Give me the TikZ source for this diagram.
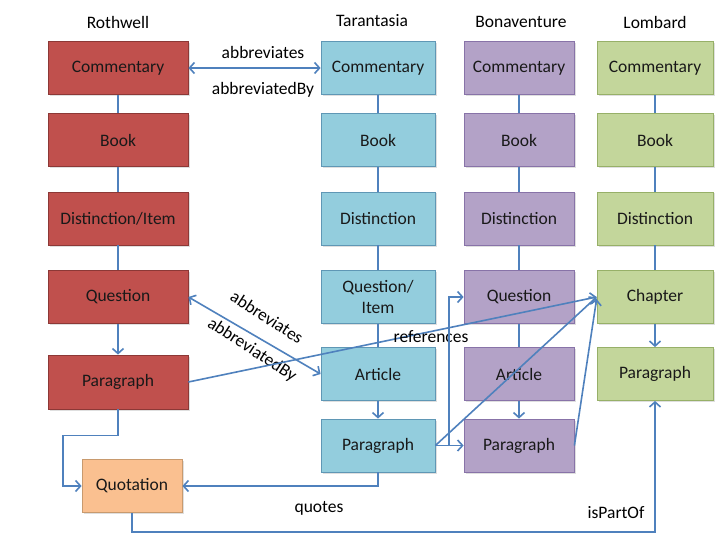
\documentclass[tikz,border=0pt]{standalone}
\usepackage{fontspec}
\setmainfont{Carlito}
\usetikzlibrary{arrows.meta,shadows}
\definecolor{ln}{HTML}{4F81BD}
\definecolor{rfill}{HTML}{C0504D}
\definecolor{rdraw}{HTML}{8C3836}
\definecolor{tfill}{HTML}{93CDDD}
\definecolor{tdraw}{HTML}{5F97B5}
\definecolor{pfill}{HTML}{B3A2C7}
\definecolor{pdraw}{HTML}{8873A8}
\definecolor{gfill}{HTML}{C3D69B}
\definecolor{gdraw}{HTML}{97B068}
\definecolor{ofill}{HTML}{FAC090}
\definecolor{odraw}{HTML}{C89A6E}
\begin{document}
\begin{tikzpicture}[x=1pt,y=-1pt,
  box/.style={draw, line width=0.8pt, minimum height=53pt, inner sep=0pt, align=center,
    font=\fontsize{17.5}{21}\selectfont, text=black!90,
    drop shadow={shadow xshift=1.5pt,shadow yshift=-1.5pt,opacity=0.25}},
  rbox/.style={box, fill=rfill, draw=rdraw, minimum width=140pt},
  tbox/.style={box, fill=tfill, draw=tdraw, minimum width=114pt},
  pbox/.style={box, fill=pfill, draw=pdraw, minimum width=110pt},
  gbox/.style={box, fill=gfill, draw=gdraw, minimum width=116pt},
  obox/.style={box, fill=ofill, draw=odraw, minimum width=100pt},
  conn/.style={draw=ln, line width=1.6pt},
  arr/.style={conn, -{Straight Barb[length=5pt,width=11pt,line width=1.6pt]}},
  darr/.style={conn, {Straight Barb[length=5pt,width=11pt,line width=1.6pt]}-{Straight Barb[length=5pt,width=11pt,line width=1.6pt]}},
  lbl/.style={font=\fontsize{17.5}{21}\selectfont, text=black, inner sep=1pt}
]
\useasboundingbox (0,0) rectangle (720,540);
\fill[white] (0,0) rectangle (720,540);

% titles
\node[lbl] (tR) at (118,22) {Rothwell};
\node[lbl] (tT) at (372,21) {Tarantasia};
\node[lbl] (tB) at (521,22) {Bonaventure};
\node[lbl] (tL) at (655,22) {Lombard};

% Rothwell
\node[rbox] (Rc) at (118,68) {Commentary};
\node[rbox] (Rb) at (118,140) {Book};
\node[rbox] (Rd) at (118,218.5) {Distinction/Item};
\node[rbox] (Rq) at (118,297) {Question};
\node[rbox, minimum height=54pt] (Rp) at (118,382) {Paragraph};

% Tarantasia
\node[tbox] (Tc) at (378,68) {Commentary};
\node[tbox] (Tb) at (378,140) {Book};
\node[tbox] (Td) at (378,218.5) {Distinction};
\node[tbox] (Tq) at (378,297) {Question/\\Item};
\node[tbox] (Ta) at (378,374) {Article};
\node[tbox] (Tp) at (378,445.5) {Paragraph};

% Bonaventure
\node[pbox] (Bc) at (519,68) {Commentary};
\node[pbox] (Bb) at (519,140) {Book};
\node[pbox] (Bd) at (519,218.5) {Distinction};
\node[pbox] (Bq) at (519,297) {Question};
\node[pbox] (Ba) at (519,374) {Article};
\node[pbox] (Bp) at (519,445.5) {Paragraph};

% Lombard
\node[gbox] (Lc) at (655,68) {Commentary};
\node[gbox] (Lb) at (655,140) {Book};
\node[gbox] (Ld) at (655,218.5) {Distinction};
\node[gbox] (Lch) at (655,297) {Chapter};
\node[gbox] (Lp) at (655,374) {Paragraph};

% Quotation
\node[obox] (Q) at (132,486) {Quotation};

% vertical hierarchy
\draw[conn] (Rc) -- (Rb);
\draw[conn] (Rb) -- (Rd);
\draw[conn] (Rd) -- (Rq);
\draw[arr] (Rq) -- (Rp);
\draw[conn] (Tc) -- (Tb);
\draw[conn] (Tb) -- (Td);
\draw[conn] (Td) -- (Tq);
\draw[conn] (Tq) -- (Ta);
\draw[arr] (Ta) -- (Tp);
\draw[conn] (Bc) -- (Bb);
\draw[conn] (Bb) -- (Bd);
\draw[conn] (Bd) -- (Bq);
\draw[conn] (Bq) -- (Ba);
\draw[arr] (Ba) -- (Bp);
\draw[conn] (Lc) -- (Lb);
\draw[conn] (Lb) -- (Ld);
\draw[conn] (Ld) -- (Lch);
\draw[arr] (Lch) -- (Lp);

% abbreviates
\draw[darr] (Rc) -- (Tc);
\node[lbl] (ab1) at (263,52) {abbreviates};
\node[lbl] (ab2) at (263,90) {abbreviatedBy};
\draw[darr] (Rq.east) -- (Ta.west);
\node[lbl, rotate=-33] (ab3) at (267,317) {abbreviates};
\node[lbl, rotate=-33] (ab4) at (252,350) {abbreviatedBy};

% references
\draw[arr] (Rp.east) -- (Lch.west);
\node[lbl] (ref) at (431,337) {references};
\coordinate (tpj) at (449,445.5);
\draw[arr] (Tp.east) -- (Bp.west);
\draw[arr] (tpj) |- (Bq.west);
\draw[arr] (Tp.east) -- (Lch.west);
\draw[arr] (Bp.east) -- ([yshift=-2pt]Lch.west);

% quotes / isPartOf
\draw[arr] (Rp.south) -- ++(0,26) -- ++(-55,0) |- (Q.west);
\draw[arr] (Tp.south) |- (Q.east);
\node[lbl] (qt) at (319,508) {quotes};
\draw[arr] (Q.south) -- ++(0,19) -| (Lp.south);
\node[lbl] (ip) at (616,513) {isPartOf};
\end{tikzpicture}
\end{document}
